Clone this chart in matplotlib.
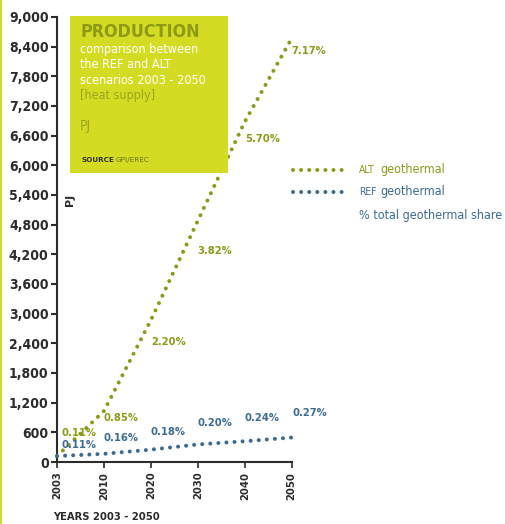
import matplotlib
matplotlib.use("Agg")
import matplotlib.pyplot as plt
from matplotlib.patches import Rectangle
from matplotlib.lines import Line2D

years = ["2003", "2010", "2020", "2030", "2040", "2050"]
alt_values = [120, 1030, 2870, 4880, 6880, 8570]
ref_values = [120, 165, 250, 355, 420, 495]
alt_share = ["0.11%", "0.85%", "2.20%", "3.82%", "5.70%", "7.17%"]
ref_share = ["0.11%", "0.16%", "0.18%", "0.20%", "0.24%", "0.27%"]
alt_label_pos = [(0.10, 580), (0.98, 884), (2.0, 2421), (2.98, 4274), (4.01, 6533), (5.0, 8319)]
ref_label_pos = [(0.10, 344), (0.98, 492), (2.0, 613), (2.99, 782), (4.0, 884), (5.01, 985)]
yticks = list(range(0, 9001, 600))

ALT = "#8d9a18"
REF = "#3b6b93"
LIME = "#d3dc22"
DARK = "#2b2b2b"
FONT = "DejaVu Sans"

fig = plt.figure(figsize=(5.05, 5.24), dpi=100)
fig.patch.set_facecolor("white")
ax = fig.add_axes([57/505, 1-462/524, 234.7/505, 445/524])

xs = list(range(len(years)))
dot = (0, (0.01, 2.0))
ax.plot(xs, alt_values, color=ALT, lw=2.9, ls=dot, dash_capstyle="round", clip_on=False, zorder=3)
ax.plot(xs, ref_values, color=REF, lw=2.9, ls=dot, dash_capstyle="round", clip_on=False, zorder=3)

for (x, y), s in zip(alt_label_pos, alt_share):
    ax.text(x, y, s, color=ALT, fontsize=8, fontweight="bold", family=FONT, fontstretch="condensed", ha="left", va="center")
for (x, y), s in zip(ref_label_pos, ref_share):
    ax.text(x, y, s, color=REF, fontsize=8, fontweight="bold", family=FONT, fontstretch="condensed", ha="left", va="center")

ax.set_xlim(0, len(years) - 1)
ax.set_ylim(0, 9000)
ax.set_yticks(yticks)
ax.set_yticklabels([f"{v:,}" for v in yticks], fontsize=10, fontweight="bold", family=FONT, fontstretch="condensed", color=DARK)
ax.set_xticks(xs)
ax.set_xticklabels(years, rotation=90, fontsize=8, fontweight="bold", family=FONT, fontstretch="condensed", color=DARK)
for s in ["top", "right"]:
    ax.spines[s].set_visible(False)
for s in ["left", "bottom"]:
    ax.spines[s].set_color(DARK)
    ax.spines[s].set_linewidth(1.5)
ax.tick_params(axis="y", length=4, width=1.5, color=DARK, pad=2)
ax.tick_params(axis="x", length=4, width=1.2, color=DARK, pad=3)

fig.text(70/505, 1-200/524, "PJ", rotation=90, fontsize=8, fontweight="bold", family=FONT, color=DARK, ha="center", va="center")
fig.text(53/505, 1-517/524, "YEARS 2003 - 2050", fontsize=8, fontweight="bold", family=FONT, fontstretch="condensed", color=DARK, ha="left", va="center")

# info box
fig.patches.append(Rectangle((70/505, 1-173/524), 158/505, 157/524, transform=fig.transFigure, facecolor=LIME, edgecolor="none", zorder=5))
fig.text(80/505, 1-32/524, "PRODUCTION", fontsize=12.8, fontweight="bold", family=FONT, fontstretch="condensed", color="#8e9a16", ha="left", va="center", zorder=6)
fig.text(80/505, 1-50/524, "comparison between", fontsize=9, family=FONT, fontstretch="condensed", color="white", ha="left", va="center", zorder=6)
fig.text(80/505, 1-65/524, "the REF and ALT", fontsize=9, family=FONT, fontstretch="condensed", color="white", ha="left", va="center", zorder=6)
fig.text(80/505, 1-80/524, "scenarios 2003 - 2050", fontsize=9, family=FONT, fontstretch="condensed", color="white", ha="left", va="center", zorder=6)
fig.text(80/505, 1-96/524, "[heat supply]", fontsize=9, family=FONT, fontstretch="condensed", color="#9aa61c", ha="left", va="center", zorder=6)
fig.text(80/505, 1-126/524, "PJ", fontsize=10, family=FONT, fontstretch="condensed", color="#9aa61c", ha="left", va="center", zorder=6)
fig.text(81/505, 1-160/524, "SOURCE", fontsize=5.2, fontweight="bold", family=FONT, color="#333333", ha="left", va="center", zorder=6)
fig.text(116/505, 1-160/524, "GPI/EREC", fontsize=5.2, family=FONT, color="#6e7510", ha="left", va="center", zorder=6)

# legend
for yy, c, tag in [(170, ALT, "ALT"), (192, REF, "REF")]:
    fig.lines.append(Line2D([293/505, 342/505], [1-yy/524, 1-yy/524], transform=fig.transFigure, color=c, lw=2.9, ls=dot, dash_capstyle="round"))
    fig.text(359/505, 1-yy/524, tag, fontsize=7.5, family=FONT, fontstretch="condensed", color=c, ha="left", va="center")
    fig.text(380/505, 1-yy/524, "geothermal", fontsize=9, family=FONT, fontstretch="condensed", color=c, ha="left", va="center")
fig.text(359/505, 1-216/524, "% total geothermal share", fontsize=9, family=FONT, fontstretch="condensed", color=REF, ha="left", va="center")

# left yellow edge
fig.patches.append(Rectangle((0, 0), 2/505, 1, transform=fig.transFigure, facecolor=LIME, edgecolor="none"))

fig.savefig("out.png", dpi=100, facecolor="white")
